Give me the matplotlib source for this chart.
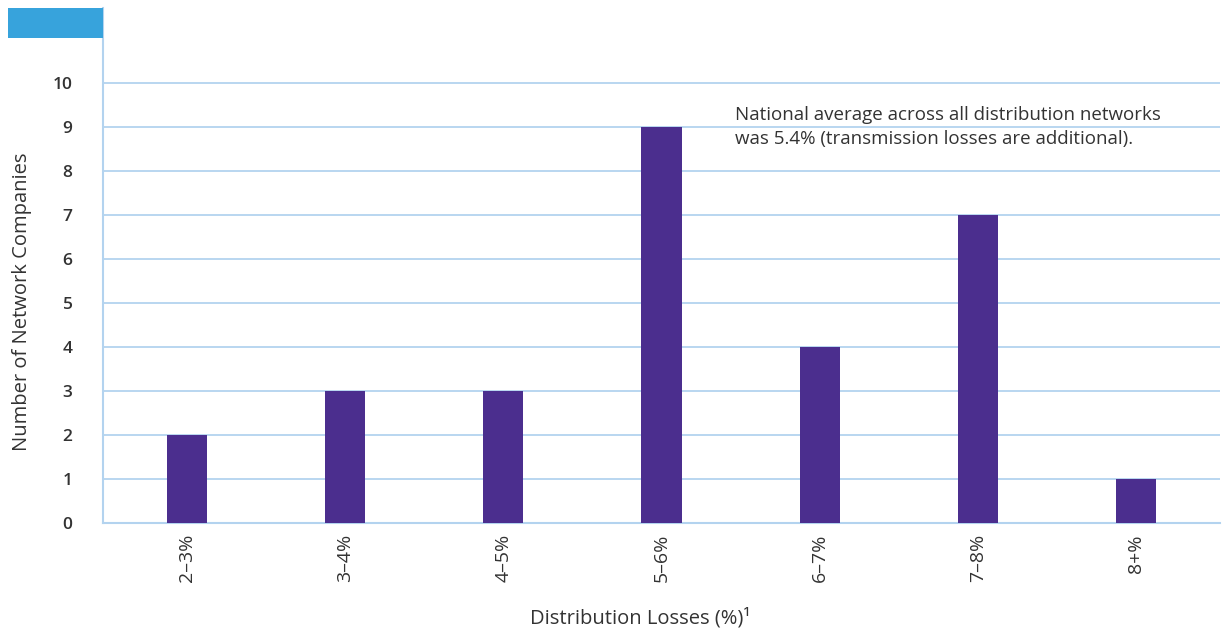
import matplotlib
matplotlib.use("Agg")
import matplotlib.pyplot as plt
from matplotlib.patches import Rectangle

categories = ["2–3%", "3–4%", "4–5%", "5–6%", "6–7%", "7–8%", "8+%"]
companies = [2, 3, 3, 9, 4, 7, 1]
y_ticks = list(range(0, 11))

BAR = "#4b2e8e"
GRID = "#b3d3ef"
ACCENT = "#37a3dc"
TEXT = "#333333"

plt.rcParams["font.family"] = ["Open Sans", "DejaVu Sans"]

W, H = 1225, 633
fig = plt.figure(figsize=(W / 100, H / 100), dpi=100)

left, right, bottom, top = 103, 1220, 523, 8
ax = fig.add_axes([left / W, (H - bottom) / H, (right - left) / W, (bottom - top) / H])

x = list(range(len(categories)))
ax.bar(x, companies, width=0.255, color=BAR, zorder=3)

ax.set_xlim(-0.53, len(categories) - 1 + 0.53)
ax.set_ylim(0, (bottom - top) / 44.0)
ax.set_yticks(y_ticks)
ax.set_yticklabels([str(v) for v in y_ticks], fontsize=12.5, color=TEXT, fontweight="semibold")
ax.yaxis.grid(True, color=GRID, linewidth=1.3, zorder=0)
ax.set_axisbelow(True)

ax.set_xticks(x)
ax.set_xticklabels(categories, rotation=90, fontsize=14, color=TEXT, va="top")
ax.tick_params(axis="both", length=0)
ax.tick_params(axis="y", pad=22)
ax.tick_params(axis="x", pad=8)

for side in ("top", "right"):
    ax.spines[side].set_visible(False)
ax.spines["left"].set_color(GRID)
ax.spines["left"].set_linewidth(1.5)
ax.spines["bottom"].set_color(GRID)
ax.spines["bottom"].set_linewidth(1.5)

fig.text(22 / W, (H - 302) / H, "Number of Network Companies", rotation=90,
         fontsize=14.5, color=TEXT, ha="center", va="center")
fig.text(640 / W, (H - 618) / H, "Distribution Losses (%)¹",
         fontsize=14.5, color=TEXT, ha="center", va="center")

ax.text(735 / W, (H - 127) / H,
        "National average across all distribution networks\nwas 5.4% (transmission losses are additional).",
        transform=fig.transFigure, fontsize=13.5, color=TEXT, va="center", ha="left",
        linespacing=1.4)

fig.patches.append(Rectangle((8 / W, (H - 38) / H), (103 - 8) / W, 30 / H,
                             transform=fig.transFigure, facecolor=ACCENT,
                             edgecolor="none", zorder=5))

fig.savefig("out.png", dpi=100, facecolor="white")
